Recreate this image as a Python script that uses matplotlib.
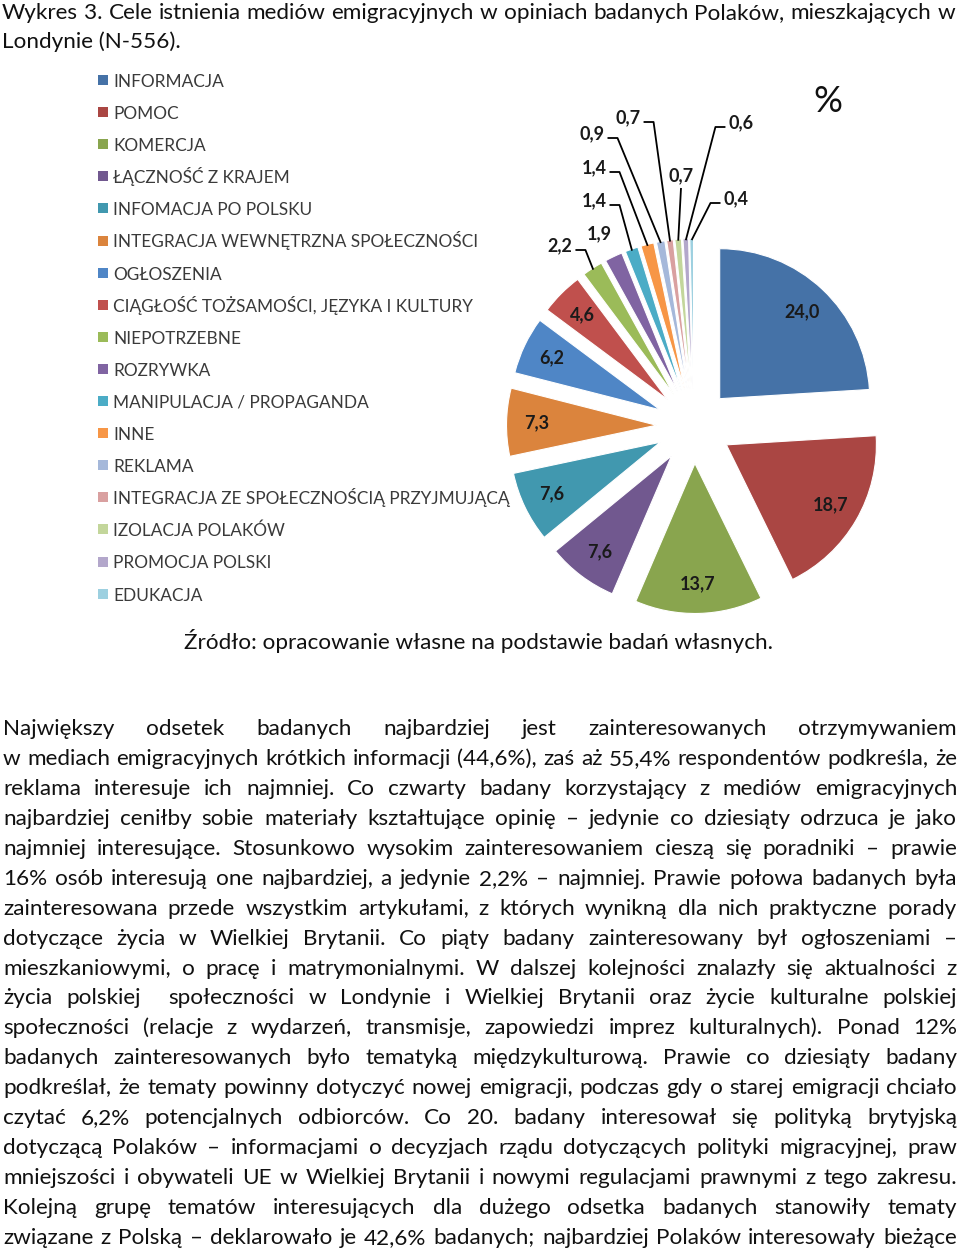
import matplotlib
matplotlib.use('Agg')
import matplotlib.pyplot as plt
import numpy as np
from matplotlib import font_manager
from matplotlib.patches import Rectangle

# ---------------- data ----------------
categories = ["INFORMACJA", "POMOC", "KOMERCJA", "ŁĄCZNOŚĆ Z KRAJEM", "INFOMACJA PO POLSKU",
              "INTEGRACJA WEWNĘTRZNA SPOŁECZNOŚCI", "OGŁOSZENIA",
              "CIĄGŁOŚĆ TOŻSAMOŚCI, JĘZYKA I KULTURY", "NIEPOTRZEBNE", "ROZRYWKA",
              "MANIPULACJA / PROPAGANDA", "INNE", "REKLAMA",
              "INTEGRACJA ZE SPOŁECZNOŚCIĄ PRZYJMUJĄCĄ", "IZOLACJA POLAKÓW",
              "PROMOCJA POLSKI", "EDUKACJA"]
values = [24.0, 18.7, 13.7, 7.6, 7.6, 7.3, 6.2, 4.6, 2.2, 1.9, 1.4, 1.4, 0.9, 0.7, 0.7, 0.6, 0.4]
value_labels = [f"{v:.1f}".replace('.', ',') for v in values]

title_lines = ["Wykres 3. Cele istnienia mediów emigracyjnych w opiniach badanych Polaków, mieszkających w",
               "Londynie (N-556)."]
source_text = "Źródło: opracowanie własne na podstawie badań własnych."
body_lines = [
    "Największy odsetek badanych najbardziej jest zainteresowanych otrzymywaniem",
    "w mediach emigracyjnych krótkich informacji (44,6%), zaś aż 55,4% respondentów podkreśla, że",
    "reklama interesuje ich najmniej. Co czwarty badany korzystający z mediów emigracyjnych",
    "najbardziej ceniłby sobie materiały kształtujące opinię – jedynie co dziesiąty odrzuca je jako",
    "najmniej interesujące. Stosunkowo wysokim zainteresowaniem cieszą się poradniki – prawie",
    "16% osób interesują one najbardziej, a jedynie 2,2% – najmniej. Prawie połowa badanych była",
    "zainteresowana przede wszystkim artykułami, z których wynikną dla nich praktyczne porady",
    "dotyczące życia w Wielkiej Brytanii. Co piąty badany zainteresowany był ogłoszeniami –",
    "mieszkaniowymi, o pracę i matrymonialnymi. W dalszej kolejności znalazły się aktualności z",
    "życia polskiej  społeczności w Londynie i Wielkiej Brytanii oraz życie kulturalne polskiej",
    "społeczności (relacje z wydarzeń, transmisje, zapowiedzi imprez kulturalnych). Ponad 12%",
    "badanych zainteresowanych było tematyką międzykulturową. Prawie co dziesiąty badany",
    "podkreślał, że tematy powinny dotyczyć nowej emigracji, podczas gdy o starej emigracji chciało",
    "czytać 6,2% potencjalnych odbiorców. Co 20. badany interesował się polityką brytyjską",
    "dotyczącą Polaków – informacjami o decyzjach rządu dotyczących polityki migracyjnej, praw",
    "mniejszości i obywateli UE w Wielkiej Brytanii i nowymi regulacjami prawnymi z tego zakresu.",
    "Kolejną grupę tematów interesujących dla dużego odsetka badanych stanowiły tematy",
    "związane z Polską – deklarowało je 42,6% badanych; najbardziej Polaków interesowały bieżące",
]

# ---------------- styles ----------------
colors = ["#4572A7", "#AA4643", "#89A54E", "#71588F", "#4198AF", "#DB843D",
          "#4F86C6", "#C0504D", "#9BBB59", "#8064A2", "#4BACC6", "#F79646",
          "#A5B8DA", "#D9A0A0", "#C3D69B", "#B3A7CB", "#9DD0E0"]

names = {f.name for f in font_manager.fontManager.ttflist}
BODY = 'Lato' if 'Lato' in names else 'DejaVu Sans'
TITLE = 'Liberation Sans Narrow' if 'Liberation Sans Narrow' in names else BODY

W, H = 960, 1250
fig = plt.figure(figsize=(9.6, 12.5), dpi=100)
fig.patch.set_facecolor('white')
renderer = fig.canvas.get_renderer()


def text_width(s, size, family, weight='normal'):
    if s == '':
        return 0.0
    t = fig.text(0, 0, s, fontsize=size, family=family, weight=weight)
    w = t.get_window_extent(renderer).width
    t.remove()
    return w


def fx(x):
    return x / W


def fy(y):
    return 1 - y / H


def justify(line, ybase, x0, x1, size, family, color='#111111'):
    words = line.split(' ')
    widths = [text_width(w, size, family) for w in words]
    gap = (x1 - x0 - sum(widths)) / (len(words) - 1)
    x = x0
    for w, wd in zip(words, widths):
        if w:
            fig.text(fx(x), fy(ybase), w, ha='left', va='baseline', fontsize=size,
                     family=family, color=color)
        x += wd + gap


# font sizes fitted to reference widths
body_size = 10 * 946 / text_width(body_lines[1], 10, BODY)
title_size = 10 * 948 / text_width(title_lines[0], 10, TITLE)
legend_size = 10 * 393 / text_width(categories[13], 10, BODY)

# ---------------- title ----------------
justify(title_lines[0], 19, 2, 955, title_size, TITLE)
fig.text(fx(2), fy(48), title_lines[1], ha='left', va='baseline', fontsize=title_size,
         family=TITLE, color='#111111')

# ---------------- pie ----------------
CX, CY, R, HALF = 694, 426, 150, 265
ax = fig.add_axes([fx(CX - HALF), fy(CY + HALF), 2 * HALF / W, 2 * HALF / H])
wedges, _ = ax.pie(values, colors=colors, startangle=90, counterclock=False,
                   explode=[0.25] * len(values), radius=1,
                   wedgeprops=dict(linewidth=0.8, edgecolor='white'))
ax.set_xlim(-HALF / R, HALF / R)
ax.set_ylim(-HALF / R, HALF / R)
ax.set_aspect('equal')
ax.axis('off')

label_size = 13
label_color = '#1a1a1a'
n_inside = 8
for i, w in enumerate(wedges[:n_inside]):
    th = np.deg2rad((w.theta1 + w.theta2) / 2)
    cx, cy = w.center
    ax.text(cx + 0.8 * np.cos(th), cy + 0.8 * np.sin(th), value_labels[i],
            ha='center', va='center', fontsize=label_size, weight='bold',
            family=BODY, color=label_color)

# outside labels (pixel positions of label centres) and leader style
outside_pos = [(560, 246), (599, 234), (594, 201), (594, 168), (592, 134),
               (628, 118), (681, 176), (741, 123), (736, 199)]
outside_leader = ['right', None, 'right', 'right', 'right', 'right', 'down', 'left', 'left']


def to_data(px, py):
    return (px - CX) / R, (CY - py) / R


for k, i in enumerate(range(n_inside, len(values))):
    w = wedges[i]
    tx, ty = to_data(*outside_pos[k])
    t = ax.text(tx, ty, value_labels[i], ha='center', va='center', fontsize=label_size,
                weight='bold', family=BODY, color=label_color, clip_on=False)
    side = outside_leader[k]
    if side is None:
        continue
    th = np.deg2rad((w.theta1 + w.theta2) / 2)
    cx, cy = w.center
    ex, ey = cx + 0.99 * np.cos(th), cy + 0.99 * np.sin(th)
    bb = t.get_window_extent(renderer)
    half_w = bb.width / 2 / R
    if side == 'right':
        sx, sy = tx + half_w + 3 / R, ty - 4 / R
        mx, my = sx + 10 / R, sy
    elif side == 'left':
        sx, sy = tx - half_w - 3 / R, ty - 4 / R
        mx, my = sx - 10 / R, sy
    else:
        sx, sy = tx, ty - 12 / R
        mx, my = sx, sy
    ax.plot([sx, mx, ex], [sy, my, ey], color='black', lw=1.3,
            solid_capstyle='butt', clip_on=False)

fig.text(fx(828), fy(101), '%', ha='center', va='center', fontsize=26, family=BODY,
         color='#111111')

# ---------------- legend ----------------
leg_y0, leg_dy = 80, 32.1
for i, name in enumerate(categories):
    yc = leg_y0 + i * leg_dy
    fig.patches.append(Rectangle((fx(98), fy(yc + 5)), 10 / W, 10 / H,
                                 transform=fig.transFigure,
                                 facecolor=wedges[i].get_facecolor(), edgecolor='none'))
    fig.text(fx(113), fy(yc + 7), name, ha='left', va='baseline', fontsize=legend_size,
             family=BODY, color='#3a3a3a')

# ---------------- source ----------------
fig.text(fx(478), fy(649), source_text, ha='center', va='baseline', fontsize=body_size,
         family=BODY, color='#111111')

# ---------------- body text ----------------
for j, line in enumerate(body_lines):
    justify(line, 735 + 29.94 * j, 3, 957, body_size, BODY)

fig.savefig('out.png', dpi=100, facecolor='white')
